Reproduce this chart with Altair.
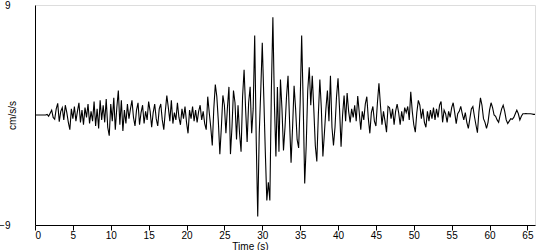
import altair as alt
import pandas as pd

# sample spacing of the record (s)
dt = 0.2

# acceleration values (cm/s/s), one per sample
accel = [
    0.0, 0.0, 0.0, 0.0, 0.0, 0.0, 0.0, 0.0,
    0.05, -0.1, 0.15, 0.4, -0.2, -0.35, 0.5, 0.95,
    -0.55, 0.3, 0.6, -0.4, 0.8, 0.2, -0.6, -1.2, 0.5, -0.3,
    0.7, -0.5, 0.3, 1.0, -0.6, 0.4, -0.8, 0.6, -0.2, 0.9,
    -0.7, 0.3, -0.5, 1.1, -0.9, 0.5, -1.1, 1.2, -0.4, 0.8,
    -0.6, 1.3, -1.0, -1.7, 0.9, -0.5, 1.4, -1.2, 0.6, 2.0,
    -0.8, 1.2, -1.3, 0.4, -0.7,
    0.9, -0.3, 0.5, 1.2, -0.2, -0.9, 0.4, 1.0, -0.8, 0.2,
    0.8, -0.7, 0.3, -0.4, 1.1, 0.3, -1.0, 0.2, 0.9, -0.3,
    -0.9, 0.5, 0.9, -0.4, -1.2, 0.3, 1.6, 0.6, -0.5, 1.2,
    -0.7, 0.2, -0.4, 1.0, -0.2, -0.8, 0.5, -0.3, 0.7, -0.6,
    -1.5, 0.4, -0.3, 0.7, -0.5, 0.4, -0.6, 0.3, 0.8, -0.4,
    0.3, -0.7, -1.2, 1.5, 0.2, -1.0, -2.5, 0.5, 2.5, 1.5,
    -0.5, -3.2, -1.0, 1.6, 0.8, -1.5, 0.6, 2.3, -3.2, -1.0,
    2.0, 1.0, -2.0, 0.8, -1.5, -3.0, 1.5, 3.7, 0.5, -2.2,
    1.0, 2.3, -1.5, 0.5, 6.5, -2.0, -8.3, -1.5, 2.0, 5.9,
    1.5, -3.0, -7.0, -5.5, -7.0, 2.0, 8.0, 1.0, -3.4, 2.3,
    -3.0, 2.9, 0.5, -2.9, -1.0, 1.5, 3.2, -0.5, -3.9, -1.0,
    2.4, 0.5, -2.0, -2.7, 1.0, 6.5, 1.0, -5.6, -2.5, 2.0,
    3.9, 0.8, 3.2, 0.5, -2.5, -3.8, 0.0, 2.9, 0.5, -3.4,
    -1.5, 0.5, 2.0, -0.5, 3.2, -1.0, -2.5, -1.0, 1.5, 3.0,
    0.5, -2.6, 0.0, 1.6, -0.5, 1.8, 0.3, -0.6, 0.5, -0.2,
    0.8, -0.5, 1.55, 0.2, -1.2, 0.3, -0.4, 0.9, 1.5, -0.3,
    -1.5, 0.2, 0.7, -0.5, -0.9, 1.0, 2.6, 0.8, -0.8, 0.3,
    -0.5, -1.4, 0.7, 0.6, -0.3, 0.5, -0.8, 0.3, 0.9, 0.2,
    -0.8, 0.3, -0.5, 0.6, 0.2, 0.7, -0.4, 1.9, 0.3, -0.8,
    -1.4, 0.2, 1.2, 0.8, -0.3, 0.5, -0.6, -1.0, 0.3, -0.5,
    0.4, -0.3, 0.6, -0.4, 0.5, -0.2, 0.8, 1.1, -0.6, 0.4,
    0.1, -0.6, 0.3, -0.2, 0.6, 1.0, 0.2, -0.7, 0.1, 0.3,
    0.7, 0.1, -0.4, 0.2, -0.6, -1.1, -0.3, 0.5, 0.7, -0.1,
    -0.8, -1.45, 0.3, 1.4, 0.8, -0.3, -0.6, -1.1, -0.6, 0.4,
    1.0, 0.6, 0.0, -0.1, -0.4, -0.6, 0.0, 0.5, 0.8, 0.3,
    -0.4, -0.7, -0.5, -0.3, -0.35, -0.2, 0.1, 0.4, 0.1, -0.4,
    -0.1, 0.1, 0.1, 0.12, 0.1, 0.1, 0.1, 0.08, 0.05, 0.05,
]

x_ticks = [0, 5, 10, 15, 20, 25, 30, 35, 40, 45, 50, 55, 60, 65]
y_ticks = [-9, 9]

df = pd.DataFrame({
    "time": [round(i * dt, 3) for i in range(len(accel))],
    "accel": accel,
})

FONT = "Liberation Sans"

chart = (
    alt.Chart(df)
    .mark_line(color="black", strokeWidth=1.1, clip=True)
    .encode(
        x=alt.X(
            "time:Q",
            scale=alt.Scale(domain=[0, 66], nice=False, zero=False),
            axis=alt.Axis(
                values=x_ticks,
                title="Time (s)",
                titleX=215,
                titleY=16,
                titleBaseline="top",
                titleFontWeight="normal",
                titleFontSize=10,
                tickSize=5,
                labelPadding=0,
                labelFontSize=10,
                labelBaseline="top",
                grid=False,
                domainColor="black",
                tickColor="black",
                labelColor="black",
                titleColor="black",
            ),
        ),
        y=alt.Y(
            "accel:Q",
            scale=alt.Scale(domain=[-9, 9], nice=False),
            axis=alt.Axis(
                values=y_ticks,
                title="cm/s/s",
                titleX=-23,
                titleY=110,
                titleAngle=-90,
                titleAlign="center",
                titleBaseline="middle",
                titleFontWeight="normal",
                titleFontSize=10,
                ticks=False,
                labelPadding=25,
                labelFontSize=10,
                labelBaseline="middle",
                grid=False,
                domainColor="black",
                labelColor="black",
                titleColor="black",
            ),
        ),
    )
    .properties(
        width=500,
        height=220,
        autosize=alt.AutoSizeParams(type="none"),
        padding={"left": 35, "top": 5, "right": 15, "bottom": 25},
    )
    .configure_view(stroke=None)
    .configure_axis(labelFont=FONT, titleFont=FONT)
    .configure(background="white")
)

chart.save("out.html", embed_options={"renderer": "svg", "actions": False})
